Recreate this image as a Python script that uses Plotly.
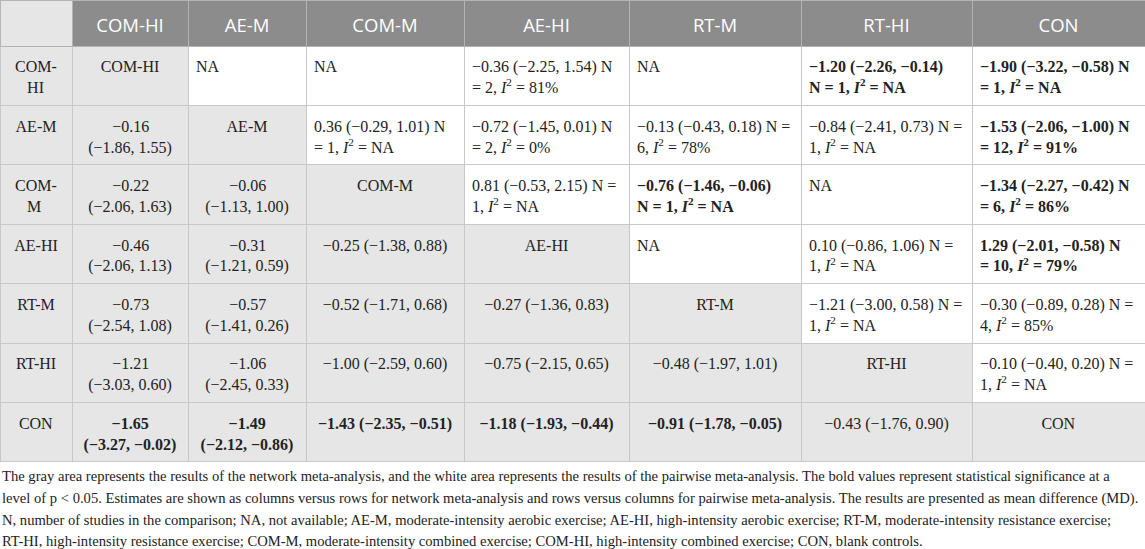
import plotly.graph_objects as go

# treatments, in table order
labels = ["COM-HI", "AE-M", "COM-M", "AE-HI", "RT-M", "RT-HI", "CON"]

# network meta-analysis (lower triangle): row treatment vs column treatment
nma_md = [
    [],
    [-0.16],
    [-0.22, -0.06],
    [-0.46, -0.31, -0.25],
    [-0.73, -0.57, -0.52, -0.27],
    [-1.21, -1.06, -1.00, -0.75, -0.48],
    [-1.65, -1.49, -1.43, -1.18, -0.91, -0.43],
]
nma_lo = [
    [],
    [-1.86],
    [-2.06, -1.13],
    [-2.06, -1.21, -1.38],
    [-2.54, -1.41, -1.71, -1.36],
    [-3.03, -2.45, -2.59, -2.15, -1.97],
    [-3.27, -2.12, -2.35, -1.93, -1.78, -1.76],
]
nma_hi = [
    [],
    [1.55],
    [1.63, 1.00],
    [1.13, 0.59, 0.88],
    [1.08, 0.26, 0.68, 0.83],
    [0.60, 0.33, 0.60, 0.65, 1.01],
    [-0.02, -0.86, -0.51, -0.44, -0.05, 0.90],
]

# pairwise meta-analysis (upper triangle), None = NA
pw_row = [0, 0, 0, 1, 1, 1, 1, 1, 2, 2, 2, 3, 3, 4, 4, 5]
pw_col = [3, 5, 6, 2, 3, 4, 5, 6, 3, 4, 6, 5, 6, 5, 6, 6]
pw_md = [-0.36, -1.20, -1.90, 0.36, -0.72, -0.13, -0.84, -1.53, 0.81, -0.76, -1.34, 0.10, 1.29, -1.21, -0.30, -0.10]
pw_lo = [-2.25, -2.26, -3.22, -0.29, -1.45, -0.43, -2.41, -2.06, -0.53, -1.46, -2.27, -0.86, -2.01, -3.00, -0.89, -0.40]
pw_hi = [1.54, -0.14, -0.58, 1.01, 0.01, 0.18, 0.73, -1.00, 2.15, -0.06, -0.42, 1.06, -0.58, 0.58, 0.28, 0.20]
pw_n = [2, 1, 1, 1, 2, 6, 1, 12, 1, 1, 6, 1, 10, 1, 4, 1]
pw_i2 = [81, None, None, None, 0, 78, None, 91, None, None, 86, None, 79, None, 85, None]

footnote_lines = [
    "The gray area represents the results of the network meta-analysis, and the white area represents the results of the pairwise meta-analysis. The bold values represent statistical significance at a",
    "level of p < 0.05. Estimates are shown as columns versus rows for network meta-analysis and rows versus columns for pairwise meta-analysis. The results are presented as mean difference (MD).",
    "N, number of studies in the comparison; NA, not available; AE-M, moderate-intensity aerobic exercise; AE-HI, high-intensity aerobic exercise; RT-M, moderate-intensity resistance exercise;",
    "RT-HI, high-intensity resistance exercise; COM-M, moderate-intensity combined exercise; COM-HI, high-intensity combined exercise; CON, blank controls.",
]

# ---- layout helpers -------------------------------------------------------
W, H = 1145, 549
col_px = [72, 116, 118, 158, 165, 172, 171, 173]
wrap_px = [50, 100, 100, 142, 148, 154, 154, 159]
FS = 16            # visible cell text size
CELL_BASE = 8      # cell font size -> two breaks = one 16px text line
SPACER_FS = 9      # spacer line on top, pushes text down a little
HEAD_FS = 18.5
HEAD_BASE = 10.2
BOLD_K = 1.05
head_h, row_h = 46, 59.4

GRAY, WHITE, DARK = "#e6e6e6", "#ffffff", "#8c8c8c"
NBSP = "\u00a0"

# rough Times-like glyph widths (em)
_w = {" ": .25, ".": .25, ",": .25, "(": .333, ")": .333, "−": .564, "=": .564,
      "%": .833, "N": .722, "A": .722, "I": .333, "²": .3, "-": .333,
      "C": .667, "O": .722, "M": .889, "H": .722, "E": .611, "R": .667, "T": .611}


def width(s, bold=False):
    w = sum(_w.get(ch, .5) for ch in s)
    return w * FS * (BOLD_K if bold else 1.0)


def wrap(tokens, limit, bold=False):
    lines, cur = [], ""
    for t in tokens:
        trial = t if not cur else cur + " " + t
        if cur and width(trial, bold) > limit:
            lines.append(cur)
            cur = t
        else:
            cur = trial
    lines.append(cur)
    return lines


def centre(lines, bold=False):
    # plotly left-aligns the lines of a centred block; pad short lines
    if len(lines) < 2:
        return lines
    widths = [width(l, bold) for l in lines]
    sp = width(" ", bold)
    return [NBSP * round((max(widths) - w) / 2 / sp) + l for l, w in zip(lines, widths)]


def fmt(v):
    return f"{v:.2f}".replace("-", "−")


def render(lines, bold=False):
    out = []
    for ln in lines:
        ln = ln.replace("I²", "<i>I</i><sup>2</sup>")
        if bold:
            ln = f"<b>{ln}</b>"
        out.append(f"<span style='font-size:{FS}px'>{ln}</span>")
    spacer = f"<span style='font-size:{SPACER_FS}px'>{NBSP}</span>"
    return spacer + "<br>" + "<br><br>".join(out)


def label_lines(s, limit):
    if width(s) > limit and "-" in s:
        a, b = s.split("-", 1)
        return centre([a + "-", b])
    return [s]


nt = len(labels)
grid = [[render(["NA"])] * nt for _ in range(nt)]  # grid[row][col]

for r in range(nt):
    grid[r][r] = render([labels[r]])
    for c in range(r):
        md, lo, hi = nma_md[r][c], nma_lo[r][c], nma_hi[r][c]
        bold = hi < 0 or lo > 0
        toks = [fmt(md), f"({fmt(lo)}, {fmt(hi)})"]
        grid[r][c] = render(centre(wrap(toks, wrap_px[c + 1], bold), bold), bold)

for r, c, md, lo, hi, n, i2 in zip(pw_row, pw_col, pw_md, pw_lo, pw_hi, pw_n, pw_i2):
    bold = hi < 0 or lo > 0
    toks = [fmt(md), f"({fmt(lo)}, {fmt(hi)})", "N", "=", f"{n},", "I²", "=",
            "NA" if i2 is None else f"{i2}%"]
    grid[r][c] = render(wrap(toks, wrap_px[c + 1], bold), bold)

# columns for go.Table
values = [[render(label_lines(l, wrap_px[0])) for l in labels]]
fills = [[GRAY] * nt]
aligns = [["center"] * nt]
for c in range(nt):
    values.append([grid[r][c] for r in range(nt)])
    fills.append([WHITE if r < c else GRAY for r in range(nt)])
    aligns.append(["left" if r < c else "center" for r in range(nt)])

head_vals = [""] + [f"{NBSP}<br><span style='font-size:{HEAD_FS}px'>{l}</span>" for l in labels]

fig = go.Figure(go.Table(
    columnwidth=col_px,
    domain=dict(x=[0, 1], y=[1 - (head_h + nt * row_h + 2) / H, 1]),
    header=dict(
        values=head_vals,
        fill_color=[GRAY] + [DARK] * nt,
        line=dict(color="#b4b4b4", width=1),
        font=dict(family="Open Sans", size=HEAD_BASE, color="white"),
        align="center",
        height=head_h,
    ),
    cells=dict(
        values=values,
        fill_color=fills,
        line=dict(color="#c8c8c8", width=1),
        font=dict(family="Liberation Serif", size=CELL_BASE, color="#222222"),
        height=row_h,
    ),
))
# plotly.js reads a per-cell (column x row) align grid; the python validator only takes 1-D
fig._data[0]["cells"]["align"] = aligns

line_y = [476, 498, 520, 541]
for txt, yp in zip(footnote_lines, line_y):
    fig.add_annotation(
        text=txt, x=0.0, y=1 - yp / H, xref="paper", yref="paper",
        xanchor="left", yanchor="middle", showarrow=False,
        font=dict(family="Liberation Serif", size=14.6, color="#222222"),
    )

fig.update_layout(
    width=W, height=H,
    margin=dict(l=0, r=0, t=0, b=0),
    paper_bgcolor="white",
)

fig.write_html("out.html", config={"displayModeBar": False},
               post_script="document.body.style.margin='0px';")
